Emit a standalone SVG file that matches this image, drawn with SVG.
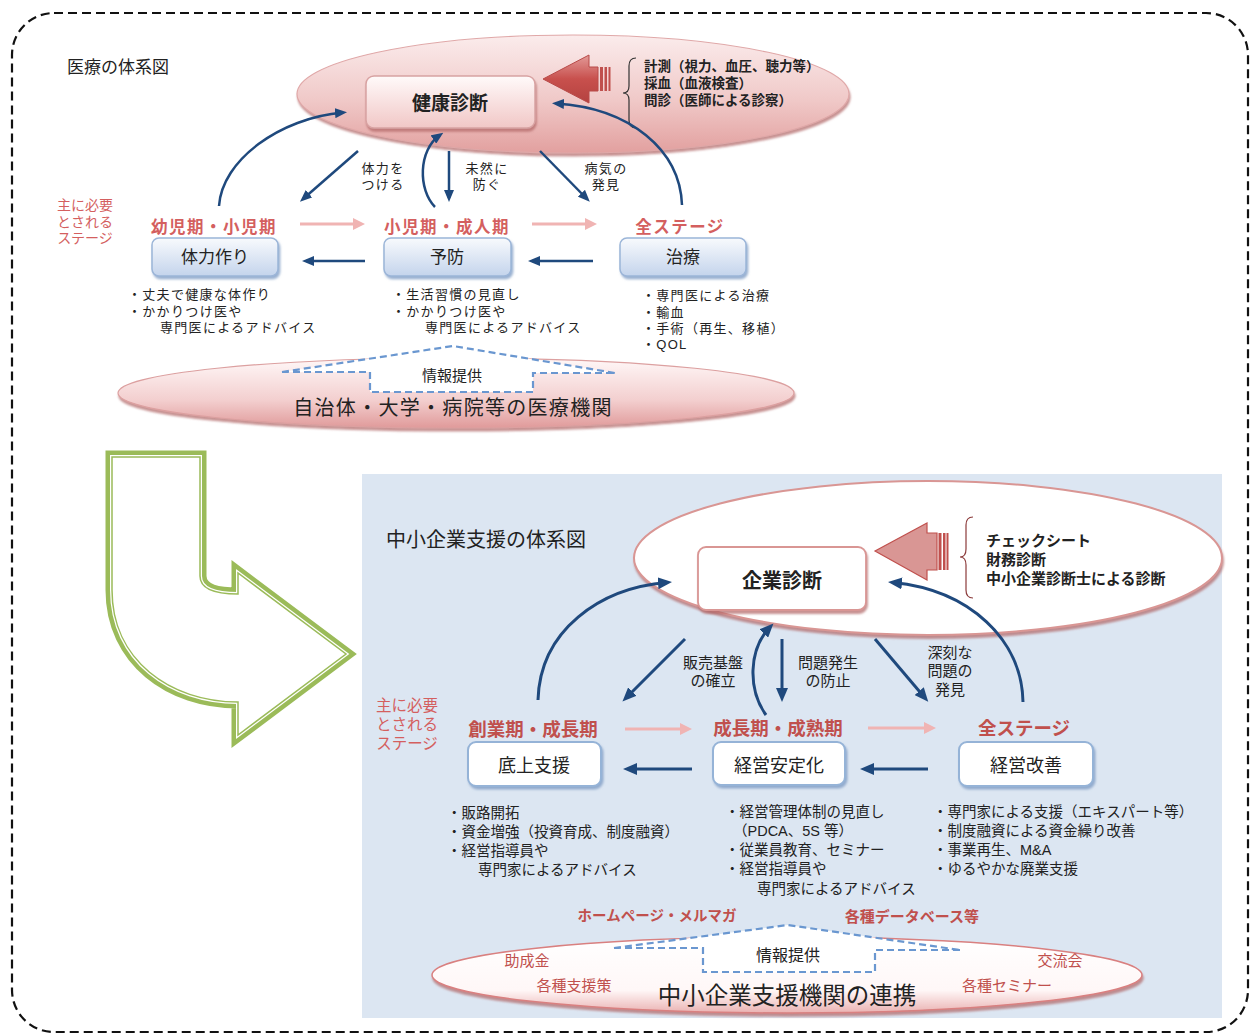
<svg xmlns="http://www.w3.org/2000/svg" width="1257" height="1036" viewBox="0 0 1257 1036">
<defs>
<style>
text { font-family: "Liberation Sans", "Noto Sans CJK JP", sans-serif; dominant-baseline: central; fill: #222; }
.c { text-anchor: middle; }
.b { font-weight: bold; }
.red { fill: #c0504d; }
.lred { fill: #d45f5f; }
.ba { fill: none; stroke: #1f497d; stroke-width: 2.5; marker-end: url(#ab); }
.ba2 { fill: none; stroke: #1f497d; stroke-width: 3; marker-end: url(#ab2); }
.pa { fill: none; stroke: #f0b4b3; stroke-width: 3; marker-end: url(#ap); }
.dash { fill: none; stroke: #6a97d0; stroke-width: 2.2; stroke-dasharray: 7 4; }
.s13 { font-size: 13px; letter-spacing: 1.3px; }
.s145 { font-size: 14.5px; }
.bluebox { fill: url(#gBlueBox); stroke: #9bb5d8; stroke-width: 1.5; filter: url(#shB); }
.whitebox { fill: #fff; stroke: #95b3d7; stroke-width: 2; filter: url(#shB); }
</style>
<linearGradient id="gPinkEll" x1="0" y1="0" x2="0" y2="1">
<stop offset="0" stop-color="#fbecec"/><stop offset="0.55" stop-color="#f0c9c8"/><stop offset="1" stop-color="#e2a09f"/>
</linearGradient>
<linearGradient id="gPinkBox" x1="0" y1="0" x2="0" y2="1">
<stop offset="0" stop-color="#fffafa"/><stop offset="1" stop-color="#f1c7c6"/>
</linearGradient>
<linearGradient id="gBlueBox" x1="0" y1="0" x2="0" y2="1">
<stop offset="0" stop-color="#f8fafd"/><stop offset="1" stop-color="#c4d4ec"/>
</linearGradient>
<linearGradient id="gBotEll1" x1="0" y1="0" x2="0" y2="1">
<stop offset="0" stop-color="#fff8f8"/><stop offset="0.6" stop-color="#f3cfcf"/><stop offset="1" stop-color="#e09a9a"/>
</linearGradient>
<linearGradient id="gBotEll2" x1="0" y1="0" x2="0" y2="1">
<stop offset="0" stop-color="#ffffff"/><stop offset="0.7" stop-color="#fff7f7"/><stop offset="1" stop-color="#eab2b2"/>
</linearGradient>
<linearGradient id="gRed" x1="0" y1="0" x2="0" y2="1">
<stop offset="0" stop-color="#e39a98"/><stop offset="0.5" stop-color="#c8504d"/><stop offset="1" stop-color="#b44240"/>
</linearGradient>
<filter id="shB" x="-10%" y="-10%" width="130%" height="150%">
<feDropShadow dx="1.5" dy="2.5" stdDeviation="0.8" flood-color="#7f9cc4" flood-opacity="0.8"/>
</filter>
<filter id="shP" x="-10%" y="-10%" width="130%" height="150%">
<feDropShadow dx="1" dy="3" stdDeviation="1.2" flood-color="#b06565" flood-opacity="0.7"/>
</filter>
<marker id="ab" viewBox="0 0 12 10" refX="8" refY="5" markerWidth="12" markerHeight="10" markerUnits="userSpaceOnUse" orient="auto"><path d="M0,0 L12,5 L0,10 Z" fill="#1f497d"/></marker>
<marker id="ab2" viewBox="0 0 14 12" refX="9" refY="6" markerWidth="14" markerHeight="12" markerUnits="userSpaceOnUse" orient="auto"><path d="M0,0 L14,6 L0,12 Z" fill="#1f497d"/></marker>
<marker id="ap" viewBox="0 0 12 12" refX="8" refY="6" markerWidth="12" markerHeight="12" markerUnits="userSpaceOnUse" orient="auto"><path d="M0,0 L12,6 L0,12 Z" fill="#f0b4b3"/></marker>
</defs>

<rect width="1257" height="1036" fill="#fff"/>
<rect x="12" y="13" width="1236" height="1019" rx="42" fill="none" stroke="#111" stroke-width="2.2" stroke-dasharray="9 5"/>

<!-- ===== Top section: medical system ===== -->
<g id="title-medical"><text x="67" y="67" font-size="17">医療の体系図</text></g>

<g id="top-ellipse">
<ellipse cx="573" cy="94" rx="276" ry="59" fill="url(#gPinkEll)" stroke="#e0a8a8" stroke-width="1.2" filter="url(#shP)"/>
</g>

<g id="node-kenkou">
<rect x="366" y="76" width="169" height="52" rx="8" fill="url(#gPinkBox)" stroke="#d8a2a2" stroke-width="1.5" filter="url(#shP)"/>
<text x="450" y="103" class="c b" font-size="19">健康診断</text>
</g>

<g id="top-red-arrow">
<polygon points="543,79 589,55 589,67 598,67 598,91 589,91 589,103" fill="url(#gRed)" stroke="#b84a48" stroke-width="1"/>
<rect x="600" y="67" width="3" height="24" fill="#c0504d"/>
<rect x="604.5" y="67" width="2.5" height="24" fill="#c0504d"/>
<rect x="608.5" y="67" width="2" height="24" fill="#c0504d"/>
</g>

<g id="top-checklist">
<path d="M636 58 Q629 58 629 66 L629 86 Q629 93 623 93 Q629 93 629 100 L629 120 Q629 128 636 128" fill="none" stroke="#333" stroke-width="1.2"/>
<text class="b" font-size="13.5"><tspan x="644" y="66">計測（視力、血圧、聴力等）</tspan><tspan x="644" y="83">採血（血液検査）</tspan><tspan x="644" y="100">問診（医師による診察）</tspan></text>
</g>

<g id="top-stage-caption">
<text class="c lred" font-size="14"><tspan x="85" y="205">主に必要</tspan><tspan x="85" y="222">とされる</tspan><tspan x="85" y="238">ステージ</tspan></text>
</g>

<g id="node-tairyoku">
<text x="214" y="227" class="c b lred" font-size="16.5" letter-spacing="1.5">幼児期・小児期</text>
<rect x="152" y="238" width="126" height="38" rx="7" class="bluebox"/>
<text x="215" y="257" class="c" font-size="17" fill="#333">体力作り</text>
<text class="s13"><tspan x="128" y="294">・丈夫で健康な体作り</tspan><tspan x="128" y="311">・かかりつけ医や</tspan><tspan x="160" y="327">専門医によるアドバイス</tspan></text>
</g>

<g id="node-yobou">
<text x="447" y="227" class="c b lred" font-size="16.5" letter-spacing="1.5">小児期・成人期</text>
<rect x="384" y="238" width="127" height="38" rx="7" class="bluebox"/>
<text x="447" y="257" class="c" font-size="17" fill="#333">予防</text>
<text class="s13"><tspan x="392" y="294">・生活習慣の見直し</tspan><tspan x="392" y="311">・かかりつけ医や</tspan><tspan x="425" y="327">専門医によるアドバイス</tspan></text>
</g>

<g id="node-chiryou">
<text x="680" y="227" class="c b lred" font-size="16.5" letter-spacing="1.5">全ステージ</text>
<rect x="620" y="238" width="126" height="38" rx="7" class="bluebox"/>
<text x="683" y="257" class="c" font-size="17" fill="#333">治療</text>
<text class="s13"><tspan x="642" y="295">・専門医による治療</tspan><tspan x="642" y="312">・輸血</tspan><tspan x="642" y="328">・手術（再生、移植）</tspan><tspan x="642" y="344">・QOL</tspan></text>
</g>

<g id="top-connectors">
<path class="ba" d="M219 206 C222 160 280 118 343 112.5"/>
<path class="ba" d="M358 151 L303 199"/>
<path class="ba" d="M435 207 C418 190 418 150 440 135"/>
<path class="ba" d="M449 151 L449 198"/>
<path class="ba" d="M540 151 L587 199"/>
<path class="ba" d="M682 205 C680 150 630 108 556 103.5"/>
<path class="pa" d="M300 224 L361 224"/>
<path class="pa" d="M532 224 L593 224"/>
<path class="ba" d="M365 261 L306 261"/>
<path class="ba" d="M593 261 L532 261"/>
<text class="c s13"><tspan x="383" y="168">体力を</tspan><tspan x="383" y="184">つける</tspan></text>
<text class="c s13"><tspan x="487" y="168">未然に</tspan><tspan x="487" y="184">防ぐ</tspan></text>
<text class="c s13"><tspan x="606" y="168">病気の</tspan><tspan x="606" y="184">発見</tspan></text>
</g>

<g id="top-institutions">
<ellipse cx="456" cy="393" rx="338" ry="35" fill="url(#gBotEll1)" stroke="#dca0a0" stroke-width="1.2" filter="url(#shP)"/>
<polygon points="282,372 453,346 615,373 533,373 533,392 370,392 370,372" fill="#fff"/>
<path class="dash" d="M282 372 L453 346 L615 373 M282 372 L370 372 L370 392 L533 392 L533 373 L615 373"/>
<text x="452" y="375" class="c" font-size="15">情報提供</text>
<text x="453" y="408" class="c" font-size="20" letter-spacing="1.3">自治体・大学・病院等の医療機関</text>
</g>

<!-- ===== Green bent arrow ===== -->
<g id="green-arrow">
<path d="M112 457 H200 V576 Q200 594 238 594 V573 L346 654 L238 735 V702 C170 702 112 660 112 590 Z" fill="#fff" stroke="#9bbb59" stroke-width="13" stroke-linejoin="miter" paint-order="stroke"/>
<path d="M112 457 H200 V576 Q200 594 238 594 V573 L346 654 L238 735 V702 C170 702 112 660 112 590 Z" fill="none" stroke="#fff" stroke-width="4"/>
<path d="M112 457 H200 V576 Q200 594 238 594 V573 L346 654 L238 735 V702 C170 702 112 660 112 590 Z" fill="none" stroke="#9bbb59" stroke-width="1.5"/>
</g>

<!-- ===== Lower section: SME support ===== -->
<rect x="362" y="474" width="860" height="544" fill="#dce6f2"/>

<g id="title-sme"><text x="386" y="540" font-size="20">中小企業支援の体系図</text></g>

<g id="lower-ellipse">
<ellipse cx="928" cy="558" rx="294" ry="77" fill="#fff" stroke="#d99694" stroke-width="2" filter="url(#shP)"/>
</g>

<g id="node-kigyou">
<rect x="698" y="547" width="168" height="63" rx="8" fill="#fff" stroke="#d99694" stroke-width="1.8" filter="url(#shP)"/>
<text x="782" y="581" class="c b" font-size="20" fill="#111">企業診断</text>
</g>

<g id="lower-red-arrow">
<polygon points="875,551 927,523 927,533 937,533 937,570 927,570 927,580" fill="#d99694" stroke="#c0504d" stroke-width="1.2"/>
<rect x="938.5" y="533" width="3" height="37" fill="#c0504d"/>
<rect x="943" y="533" width="2.5" height="37" fill="#c0504d"/>
<rect x="946.5" y="533" width="2" height="37" fill="#c0504d"/>
</g>

<g id="lower-checklist">
<path d="M973 517 Q966 517 966 525 L966 549 Q966 557 960 557 Q966 557 966 565 L966 590 Q966 598 973 598" fill="none" stroke="#8b3a3a" stroke-width="1.2"/>
<text class="b" font-size="15" fill="#111"><tspan x="986" y="540">チェックシート</tspan><tspan x="986" y="559">財務診断</tspan><tspan x="986" y="578">中小企業診断士による診断</tspan></text>
</g>

<g id="lower-stage-caption">
<text class="c lred" font-size="15.5"><tspan x="407" y="705">主に必要</tspan><tspan x="407" y="724">とされる</tspan><tspan x="407" y="743">ステージ</tspan></text>
</g>

<g id="node-sokojo">
<text x="533" y="729" class="c b red" font-size="18.5">創業期・成長期</text>
<rect x="468" y="742" width="133" height="44" rx="8" class="whitebox"/>
<text x="534" y="766" class="c" font-size="18">底上支援</text>
<text class="s145"><tspan x="447" y="813">・販路開拓</tspan><tspan x="447" y="832">・資金増強（投資育成、制度融資）</tspan><tspan x="447" y="851">・経営指導員や</tspan><tspan x="478" y="870">専門家によるアドバイス</tspan></text>
</g>

<g id="node-antei">
<text x="778" y="728" class="c b red" font-size="18.5">成長期・成熟期</text>
<rect x="713" y="742" width="132" height="43" rx="8" class="whitebox"/>
<text x="779" y="766" class="c" font-size="18">経営安定化</text>
<text class="s145"><tspan x="725" y="812">・経営管理体制の見直し</tspan><tspan x="733" y="831">（PDCA、5S 等）</tspan><tspan x="725" y="850">・従業員教育、セミナー</tspan><tspan x="725" y="869">・経営指導員や</tspan><tspan x="757" y="889">専門家によるアドバイス</tspan></text>
</g>

<g id="node-kaizen">
<text x="1024" y="728" class="c b red" font-size="18.5">全ステージ</text>
<rect x="959" y="742" width="134" height="44" rx="8" class="whitebox"/>
<text x="1026" y="766" class="c" font-size="18">経営改善</text>
<text class="s145"><tspan x="933" y="812">・専門家による支援（エキスパート等）</tspan><tspan x="933" y="831">・制度融資による資金繰り改善</tspan><tspan x="933" y="850">・事業再生、M&amp;A</tspan><tspan x="933" y="869">・ゆるやかな廃業支援</tspan></text>
</g>

<g id="lower-connectors">
<path class="ba2" d="M538 700 C540 630 600 588 667 582.5"/>
<path class="ba2" d="M685 639 L626 698"/>
<path class="ba2" d="M766 715 C748 690 748 650 770 627"/>
<path class="ba2" d="M782 639 L782 697"/>
<path class="ba2" d="M875 639 L925 698"/>
<path class="ba2" d="M1023 702 C1022 640 970 590 893 582.5"/>
<path class="pa" d="M625 729 L688 729"/>
<path class="pa" d="M868 728 L932 728"/>
<path class="ba2" d="M692 769 L628 769"/>
<path class="ba2" d="M928 769 L865 769"/>
<text class="c" font-size="15"><tspan x="713" y="662">販売基盤</tspan><tspan x="713" y="680">の確立</tspan></text>
<text class="c" font-size="15"><tspan x="828" y="662">問題発生</tspan><tspan x="828" y="680">の防止</tspan></text>
<text class="c" font-size="15"><tspan x="950" y="652">深刻な</tspan><tspan x="950" y="670">問題の</tspan><tspan x="950" y="689">発見</tspan></text>
</g>

<g id="lower-institutions">
<ellipse cx="787" cy="975" rx="355" ry="38" fill="url(#gBotEll2)" stroke="#d98080" stroke-width="1.5" filter="url(#shP)"/>
<polygon points="614,948 788,925 960,950 875,950 875,972 703,972 703,948" fill="#fff"/>
<path class="dash" d="M614 948 L788 925 L960 950 M614 948 L703 948 L703 972 L875 972 L875 950 L960 950" stroke-width="2.5" stroke="#4f81bd"/>
<text x="657" y="916" class="c b red" font-size="14.5">ホームページ・メルマガ</text>
<text x="912" y="916" class="c b red" font-size="15">各種データベース等</text>
<text x="788" y="955" class="c" font-size="16">情報提供</text>
<text x="527" y="960" class="c red" font-size="15">助成金</text>
<text x="574" y="985" class="c red" font-size="15">各種支援策</text>
<text x="1060" y="960" class="c red" font-size="15">交流会</text>
<text x="1007" y="985" class="c red" font-size="15">各種セミナー</text>
<text x="787" y="996" class="c" font-size="23.5" fill="#111">中小企業支援機関の連携</text>
</g>
</svg>
